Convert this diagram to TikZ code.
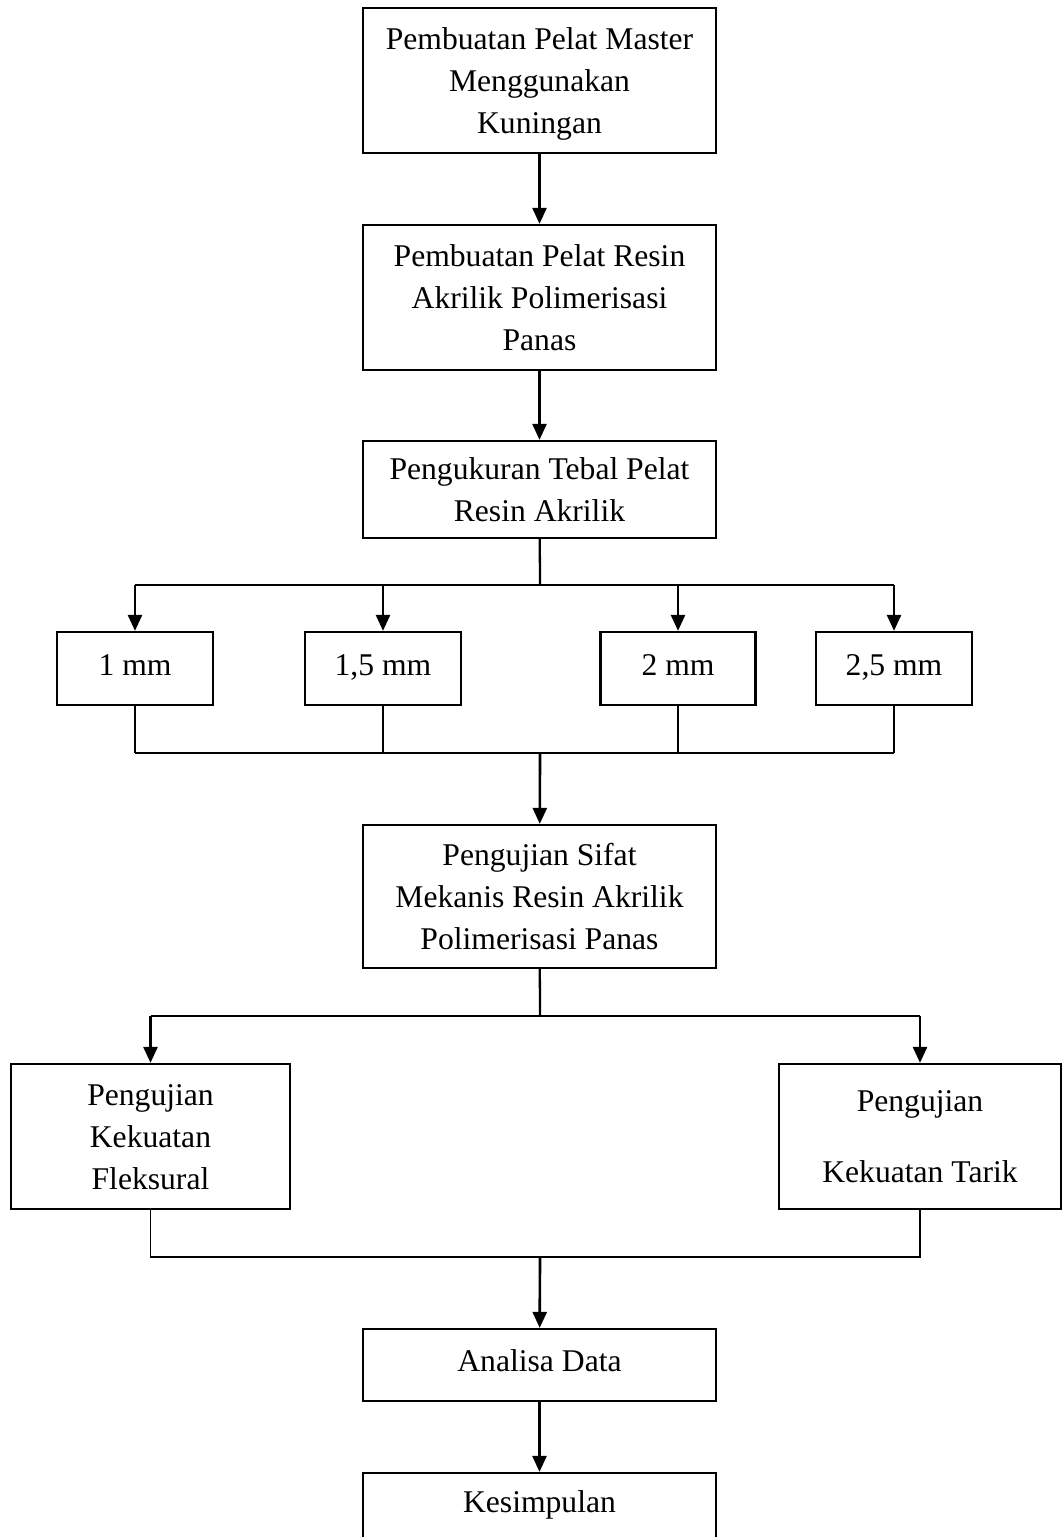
\documentclass[tikz,border=0pt]{standalone}
\usepackage{fontspec}
\setmainfont{Liberation Serif}
\usepackage{tikz}
\usetikzlibrary{arrows.meta}

\tikzset{
  stepbox/.style={draw, line width=1.3pt, align=center, inner sep=0pt,
    font=\fontsize{18}{24}\selectfont},
  mainbox/.style={stepbox, minimum width=7.06cm},
  one line/.style={text height=12.3pt, text depth=4.4pt},
  two lines/.style={text height=36.3pt, text depth=0pt},
  three lines/.style={text height=60.3pt, text depth=0pt},
  mmbox/.style={stepbox, one line, minimum width=3.12cm, minimum height=1.46cm},
  arr/.style={line width=1.5pt, -{Triangle[width=0.28cm,length=0.32cm]}},
  link/.style={line width=1.3pt},
  thin link/.style={line width=0.9pt}
}

\begin{document}
\begin{tikzpicture}[x=0.02cm, y=-0.02cm]
      \useasboundingbox (0,0) rectangle (1062,1537);
      % main column
      \node[mainbox, three lines, minimum height=2.9cm] (master) at (539.5,80.5) {Pembuatan Pelat Master\\Menggunakan\\Kuningan};
      \node[mainbox, three lines, minimum height=2.9cm] (resin) at (539.5,297.5) {Pembuatan Pelat Resin\\Akrilik Polimerisasi\\Panas};
      \node[mainbox, two lines, minimum height=1.94cm] (tebal) at (539.5,489.5) {Pengukuran Tebal Pelat\\Resin Akrilik};
      % thickness groups
      \node[mmbox] (mmA) at (135,668.5) {1 mm};
      \node[mmbox] (mmB) at (383,668.5) {1,5 mm};
      \node[mmbox, minimum width=3.1cm] (mmC) at (678,668.5) {2 mm};
      \node[mmbox] (mmD) at (894,668.5) {2,5 mm};
      \node[mainbox, three lines, minimum height=2.86cm] (uji) at (539.5,896.5) {Pengujian Sifat\\Mekanis Resin Akrilik\\Polimerisasi Panas};
      % tests
      \node[stepbox, three lines, minimum width=5.58cm, minimum height=2.9cm] (fleks) at (150.5,1136.5) {Pengujian\\Kekuatan\\Fleksural};
      \node[stepbox, text height=52.7pt, text depth=0pt, minimum width=5.64cm, minimum height=2.9cm] (tarik) at (920,1136.5) {Pengujian\\[0.58cm]Kekuatan Tarik};
      \node[mainbox, one line, minimum height=1.44cm] (analisa) at (539.5,1365) {Analisa Data};
      \node[mainbox, one line, text depth=8pt, minimum height=1.44cm] (simpul) at (539.5,1509) {Kesimpulan};

      \coordinate (forkA) at (540,585);
      \coordinate (joinA) at (540,753);
      \coordinate (forkB) at (540,1016);
      \coordinate (joinB) at (540,1257);

      \draw[arr] (master) -- (resin);
      \draw[arr] (resin) -- (tebal);
      \draw[link] (tebal) -- (forkA);
      \draw[link] (forkA -| mmA) -- (forkA -| mmD);
      \foreach \n in {mmA,mmB,mmC,mmD} {
        \draw[arr] (forkA -| \n) -- (\n);
        \draw[thin link] (\n) -- (joinA -| \n);
      }
      \draw[link] (joinA -| mmA) -- (joinA -| mmD);
      \draw[arr] (joinA) -- (uji);
      \draw[link] (uji) -- (forkB);
      \draw[link] (forkB -| fleks) -- (forkB -| tarik);
      \draw[arr] (forkB -| fleks) -- (fleks);
      \draw[arr] (forkB -| tarik) -- (tarik);
      \draw[thin link] (fleks) -- (joinB -| fleks) -- (joinB -| tarik) -- (tarik);
      \draw[arr] (joinB) -- (analisa);
      \draw[arr] (analisa) -- (simpul);
\end{tikzpicture}
\end{document}
